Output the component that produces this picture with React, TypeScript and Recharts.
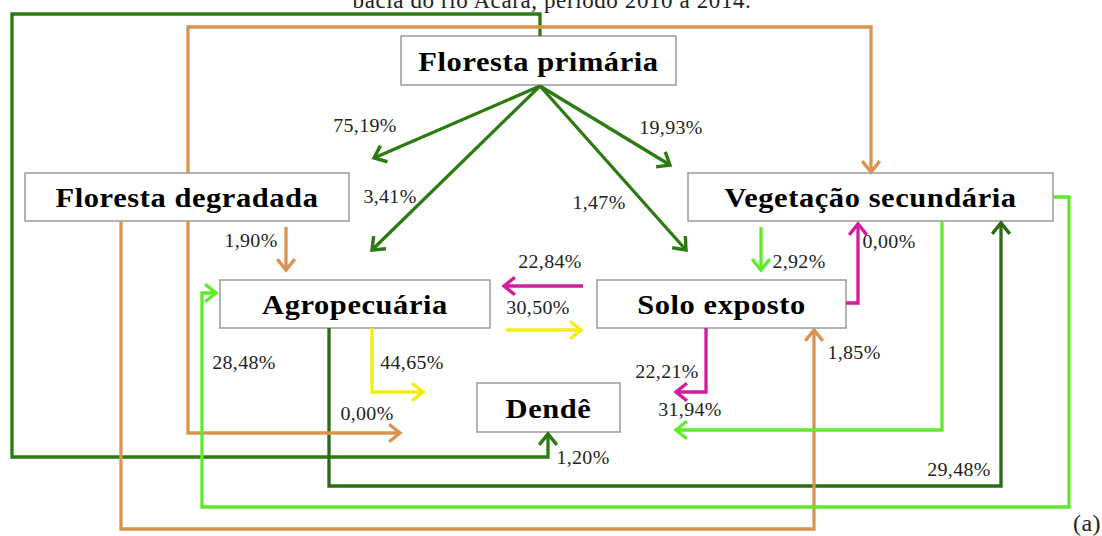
import React from 'react';
import { ComposedChart, Scatter, XAxis, YAxis, ReferenceArea } from 'recharts';

const W = 1102;
const H = 536;

// ---- nodes (diagram coordinates) ----
const nodeNames = ['Floresta primária', 'Floresta degradada', 'Vegetação secundária', 'Agropecuária', 'Solo exposto', 'Dendê'];
const nodeX1 = [401, 25, 688, 220, 597, 477];
const nodeX2 = [676, 349, 1053, 490, 846, 620];
const nodeY1 = [36, 173, 173, 280, 280, 383];
const nodeY2 = [85, 221, 221, 328, 328, 432];

// ---- flows (polyline waypoints, last point = arrow tip) ----
const flowKinds = ['dark', 'dark', 'dark', 'dark', 'dark', 'darker', 'orange', 'orange', 'orange', 'orange', 'magenta', 'magenta', 'magenta', 'yellow', 'yellow', 'light', 'light', 'light'];
const flowPaths: [number, number][][] = [
  [[540, 86], [374, 158]],
  [[540, 86], [372, 250]],
  [[540, 86], [670, 165]],
  [[540, 86], [686, 250]],
  [[540, 36], [540, 14], [12, 14], [12, 457], [548, 457], [548, 434]],
  [[329, 328], [329, 486], [1001, 486], [1001, 223]],
  [[188, 173], [188, 27], [871, 27], [871, 172]],
  [[286, 227], [286, 270]],
  [[121, 221], [121, 529], [814, 529], [814, 330]],
  [[188, 221], [188, 433], [400, 433]],
  [[583, 286], [504, 286]],
  [[846, 303], [858, 303], [858, 224]],
  [[706, 328], [706, 392], [676, 392]],
  [[506, 330], [581, 330]],
  [[372, 328], [372, 392], [423, 392]],
  [[761, 227], [761, 270]],
  [[942, 221], [942, 430], [676, 430]],
  [[1053, 197], [1069, 197], [1069, 507], [202, 507], [202, 293], [216, 293]],
];

// ---- percentage labels ----
const pctTexts = ['75,19%', '3,41%', '19,93%', '1,47%', '1,90%', '22,84%', '30,50%', '2,92%', '0,00%', '28,48%', '44,65%', '1,85%', '22,21%', '0,00%', '31,94%', '1,20%', '29,48%'];
const pctX = [365, 390, 671, 599, 251, 550, 538, 799, 889, 244, 412, 854, 667, 367, 690, 583, 959];
const pctY = [126, 197, 128, 203, 241, 262, 308, 262, 242, 363, 363, 353, 372, 414, 410, 458, 470];

const titleText = 'bacia do rio Acará, período 2010 a 2014.';
const titlePos = { x: 552, y: 8 };
const captionText = '(a)';
const captionPos = { x: 1087, y: 531 };

const COLORS: Record<string, string> = {
  dark: '#2E7A12',
  darker: '#2C6A14',
  orange: '#D8954F',
  magenta: '#D21E9E',
  yellow: '#F2EE12',
  light: '#5EEB2A',
};

const SERIF = "'Liberation Serif', 'Times New Roman', serif";

const flowData = flowPaths.map((path) =>
  path.map((p, i) => {
    let head: number | null = null;
    if (i === path.length - 1) {
      const prev = path[i - 1];
      head = Math.atan2(p[1] - prev[1], p[0] - prev[0]);
    }
    return { x: p[0], y: p[1], head };
  })
);

const nodeCenters = nodeNames.map((n, i) => ({ x: (nodeX1[i] + nodeX2[i]) / 2, y: (nodeY1[i] + nodeY2[i]) / 2, text: n }));
const pctData = pctTexts.map((t, i) => ({ x: pctX[i], y: pctY[i], text: t }));

const makeArrow = (color: string) => (props: any) => {
  const { cx, cy, payload } = props;
  if (payload == null || payload.head == null) return <g />;
  const a = payload.head;
  const L = 14;
  const s = 0.68;
  const w1x = cx - L * Math.cos(a - s);
  const w1y = cy - L * Math.sin(a - s);
  const w2x = cx - L * Math.cos(a + s);
  const w2y = cy - L * Math.sin(a + s);
  return (
    <path
      d={`M${w1x},${w1y}L${cx},${cy}L${w2x},${w2y}`}
      fill="none"
      stroke={color}
      strokeWidth={3.4}
      strokeLinejoin="miter"
    />
  );
};

const NodeText = (props: any) => {
  const { cx, cy, payload } = props;
  return (
    <text
      transform={`translate(${cx},${cy + 1}) scale(1.13,1)`}
      x={0}
      y={0}
      textAnchor="middle"
      dominantBaseline="central"
      fontFamily={SERIF}
      fontWeight="bold"
      fontSize={27}
      letterSpacing={0.5}
      fill="#000"
    >
      {payload.text}
    </text>
  );
};

const PctText = (props: any) => {
  const { cx, cy, payload } = props;
  return (
    <text
      transform={`translate(${cx},${cy}) scale(1.08,1)`}
      x={0}
      y={0}
      textAnchor="middle"
      dominantBaseline="central"
      fontFamily={SERIF}
      fontSize={18.5}
      letterSpacing={0.3}
      fill="#222"
    >
      {payload.text}
    </text>
  );
};

const TitleText = (props: any) => {
  const { cx, cy, payload } = props;
  return (
    <text x={cx} y={cy} textAnchor="middle" fontFamily={SERIF} fontSize={23} letterSpacing={0.6} fill="#222">
      {payload.text}
    </text>
  );
};

const CaptionText = (props: any) => {
  const { cx, cy, payload } = props;
  return (
    <text x={cx} y={cy} textAnchor="middle" fontFamily={SERIF} fontSize={24} letterSpacing={0.5} fill="#222">
      {payload.text}
    </text>
  );
};

export default function App() {
  return (
    <div style={{ position: 'absolute', left: 0, top: 0, width: W, height: H, background: '#fff' }}>
      <ComposedChart width={W} height={H} margin={{ top: 0, right: 0, bottom: 0, left: 0 }}>
        <XAxis type="number" dataKey="x" domain={[0, W]} allowDataOverflow hide />
        <YAxis type="number" dataKey="y" domain={[0, H]} allowDataOverflow reversed hide />
        {nodeNames.map((n, i) => (
          <ReferenceArea
            key={'box' + i}
            x1={nodeX1[i]}
            x2={nodeX2[i]}
            y1={nodeY1[i]}
            y2={nodeY2[i]}
            fill="#fff"
            fillOpacity={1}
            stroke="#9a9a9a"
            strokeWidth={1.5}
            ifOverflow="visible"
          />
        ))}
        {flowData.map((d, i) => {
          const c = COLORS[flowKinds[i]];
          return (
            <Scatter
              key={'flow' + i}
              data={d}
              line={{ stroke: c, strokeWidth: 3.3 }}
              lineType="joint"
              shape={makeArrow(c)}
              isAnimationActive={false}
            />
          );
        })}
        <Scatter data={nodeCenters} shape={NodeText} isAnimationActive={false} />
        <Scatter data={pctData} shape={PctText} isAnimationActive={false} />
        <Scatter data={[{ x: titlePos.x, y: titlePos.y, text: titleText }]} shape={TitleText} isAnimationActive={false} />
        <Scatter data={[{ x: captionPos.x, y: captionPos.y, text: captionText }]} shape={CaptionText} isAnimationActive={false} />
      </ComposedChart>
    </div>
  );
}
